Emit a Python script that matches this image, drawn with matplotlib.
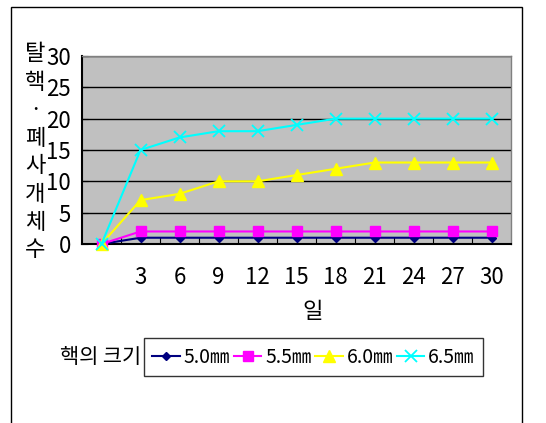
import matplotlib
matplotlib.use("Agg")
import matplotlib.pyplot as plt
from matplotlib.patches import Rectangle

plt.rcParams['font.family'] = ['Noto Sans CJK KR', 'DejaVu Sans']

days = ["", "3", "6", "9", "12", "15", "18", "21", "24", "27", "30"]
s50 = [0, 1, 1, 1, 1, 1, 1, 1, 1, 1, 1]
s55 = [0, 2, 2, 2, 2, 2, 2, 2, 2, 2, 2]
s60 = [0, 7, 8, 10, 10, 11, 12, 13, 13, 13, 13]
s65 = [0, 15, 17, 18, 18, 19, 20, 20, 20, 20, 20]
series_labels = ["5.0㎜", "5.5㎜", "6.0㎜", "6.5㎜"]
y_ticks = [0, 5, 10, 15, 20, 25, 30]
y_label_chars = ["탈", "핵", "·", "폐", "사", "개", "체", "수"]

FS = 16

W, H = 546, 423
fig = plt.figure(figsize=(W / 100, H / 100), dpi=100)
fig.patch.set_facecolor("white")

# outer chart frame
fig.add_artist(Rectangle((11 / W, -0.05), (522 - 11) / W, 1.05 - 7 / H,
                         transform=fig.transFigure, fill=False,
                         edgecolor="black", linewidth=1.0))

ax = fig.add_axes([82 / W, 1 - 244 / H, (511 - 82) / W, (244 - 56) / H])
ax.set_facecolor("#C0C0C0")

x = list(range(len(days)))
styles = [
    (s50, "#000080", "D", 4.5),
    (s55, "#FF00FF", "s", 7),
    (s60, "#FFFF00", "^", 8),
    (s65, "#00FFFF", "x", 8),
]
for (vals, col, mk, ms), lab in zip(styles, series_labels):
    ax.plot(x, vals, color=col, marker=mk, markersize=ms, linewidth=1.5,
            markeredgewidth=1.3 if mk == "x" else 1, markeredgecolor=col,
            label=lab, clip_on=False, zorder=3)

ax.set_xlim(-0.5, len(days) - 0.5)
ax.set_ylim(0, 30)
ax.set_yticks(y_ticks)
ax.set_yticklabels([str(v) for v in y_ticks], fontsize=FS)
ax.set_xticks(x)
ax.set_xticklabels(days, fontsize=FS)
ax.tick_params(axis="x", length=0, pad=16)
ax.tick_params(axis="y", length=4, direction="in", pad=8)

# category separators on the baseline
for b in range(1, len(days)):
    ax.plot([b - 0.5, b - 0.5], [0, 0.9], color="black", linewidth=0.8, zorder=2)

ax.grid(axis="y", color="black", linewidth=1.0, zorder=1)
ax.set_axisbelow(True)
for side in ["top", "right"]:
    ax.spines[side].set_color("#808080")
    ax.spines[side].set_linewidth(1.0)
for side in ["left", "bottom"]:
    ax.spines[side].set_color("black")
    ax.spines[side].set_linewidth(1.5)

# x-axis title
fig.text(313 / W, 1 - 312 / H, "일", fontsize=FS, ha="center", va="center")

# stacked vertical y-axis title
for i, ch in enumerate(y_label_chars):
    fig.text(35 / W, 1 - (54 + i * 28) / H, ch, fontsize=FS,
             ha="center", va="center")

leg = fig.legend(loc="center", bbox_to_anchor=(313.5 / W, 1 - 357 / H), ncol=4,
                 fontsize=14, frameon=True, fancybox=False, handlelength=1.4,
                 handletextpad=0.2, columnspacing=0.2, borderpad=0.45,
                 borderaxespad=0)
leg.get_frame().set_edgecolor("black")
leg.get_frame().set_linewidth(1.0)

fig.text(141 / W, 1 - 357 / H, "핵의 크기", fontsize=15, ha="right", va="center")

fig.savefig("out.png", dpi=100)
